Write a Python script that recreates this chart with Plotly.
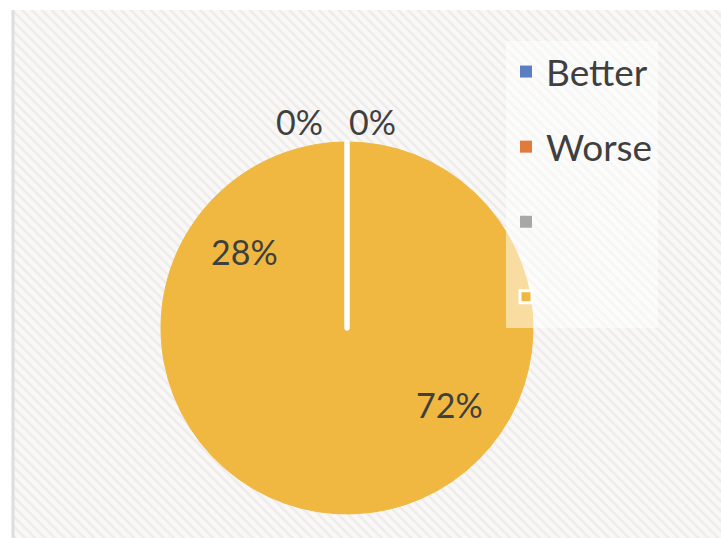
import math
import plotly.graph_objects as go

# data (legend order)
labels = ['Better', 'Worse', 'Third', 'Fourth']
values = [0, 0, 72, 28]
legend_names = ['Better', 'Worse', ' ', '  ']

# Excel starts at 12 o'clock with Better/Worse (both 0%), then 72% and 28%.
# Drawing the zero slices last keeps the same geometry but puts their white
# outline (the radial line at the top) above the big slices.
pie_order = [2, 3, 0, 1]

color_better = '#5b7fc2'
color_worse = '#e27a3c'
color_gray = '#a8a8a8'
color_yellow = '#f0b840'
text_color = '#3f3f3f'
font_family = 'Lato, Noto Sans, sans-serif'

W, H = 721, 538
cx, cy, R = 347, 328, 186   # pie centre and radius in pixels


def px(x):
    return x / W


def py(y):
    return 1 - y / H


fig = go.Figure()

# hatched chart-area background (decoration only)
fig.add_trace(go.Scatter(
    x=[0, 1, 1, 0, 0],
    y=[0, 0, 1, 1, 0],
    fill='toself',
    mode='none',
    fillcolor='#f8f7f6',
    fillpattern=dict(shape='\\', fgcolor='#e2e0de', bgcolor='#f9f8f7', size=7, solidity=0.35),
    hoverinfo='skip',
    showlegend=False))

# legend entries (the 72% and 28% slices both look yellow in the source)
legend_colors = [color_better, color_worse, color_gray, color_yellow]
for i, name in enumerate(legend_names):
    fig.add_trace(go.Scatter(
        x=[None], y=[None],
        mode='markers',
        name=name,
        legendgroup=str(i),
        marker=dict(symbol='square', size=12, color=legend_colors[i],
                    line=dict(color='white', width=3 if i == 3 else 0))))

pie_colors = {0: color_better, 1: color_worse, 2: color_yellow, 3: color_yellow}
fig.add_trace(go.Pie(
    labels=[labels[i] for i in pie_order],
    values=[values[i] for i in pie_order],
    sort=False,
    direction='clockwise',
    rotation=0,
    showlegend=False,
    marker=dict(colors=[pie_colors[i] for i in pie_order],
                line=dict(color=['white' if values[i] == 0 else color_yellow for i in pie_order],
                          width=[5 if values[i] == 0 else 1 for i in pie_order])),
    textinfo='none',
    domain=dict(x=[px(cx - R), px(cx + R)], y=[py(cy + R), py(cy - R)]),
    hoverinfo='skip'))

# percentage labels, placed from the slice angles
total = sum(values)
annotations = []
cum = 0
zero_count = 0
for i in pie_order:
    v = values[i]
    mid = math.radians((cum + v / 2) / total * 360)
    cum += v
    pct = f"{v / total:.0%}"
    if v == 0:
        x = cx + R * math.sin(mid)
        y = cy - R * math.cos(mid) - 20
        if zero_count == 0:
            annotations.append(dict(x=px(x - 22), y=py(y), text=pct, xanchor='right', yanchor='middle'))
        else:
            annotations.append(dict(x=px(x), y=py(y), text=pct, xanchor='left', yanchor='middle'))
        zero_count += 1
    else:
        annotations.append(dict(x=px(cx + 0.68 * 195 * math.sin(mid)),
                                y=py(cy - 0.68 * 177 * math.cos(mid)),
                                text=pct, xanchor='center', yanchor='middle'))

for a in annotations:
    a.update(xref='paper', yref='paper', showarrow=False,
             font=dict(size=34, color=text_color, family=font_family))

fig.update_layout(
    width=W, height=H,
    margin=dict(l=0, r=0, t=0, b=0),
    paper_bgcolor='white',
    plot_bgcolor='rgba(0,0,0,0)',
    xaxis=dict(visible=False, range=[0, 1], domain=[px(12), 1], fixedrange=True),
    yaxis=dict(visible=False, range=[0, 1], domain=[0, py(10)], fixedrange=True),
    legend=dict(
        x=px(506), y=py(41), xanchor='left', yanchor='top',
        bgcolor='rgba(255,255,255,0.5)',
        font=dict(size=37, color=text_color, family=font_family),
        tracegroupgap=24,
        itemclick=False, itemdoubleclick=False),
    annotations=annotations,
    shapes=[dict(type='line', xref='paper', yref='paper',
                 x0=px(13), x1=px(13), y0=0, y1=py(10),
                 line=dict(color='#e0dedc', width=3))],
    showlegend=True)

fig.write_html("out.html", config={'displayModeBar': False},
               post_script="document.body.style.margin='0';")
